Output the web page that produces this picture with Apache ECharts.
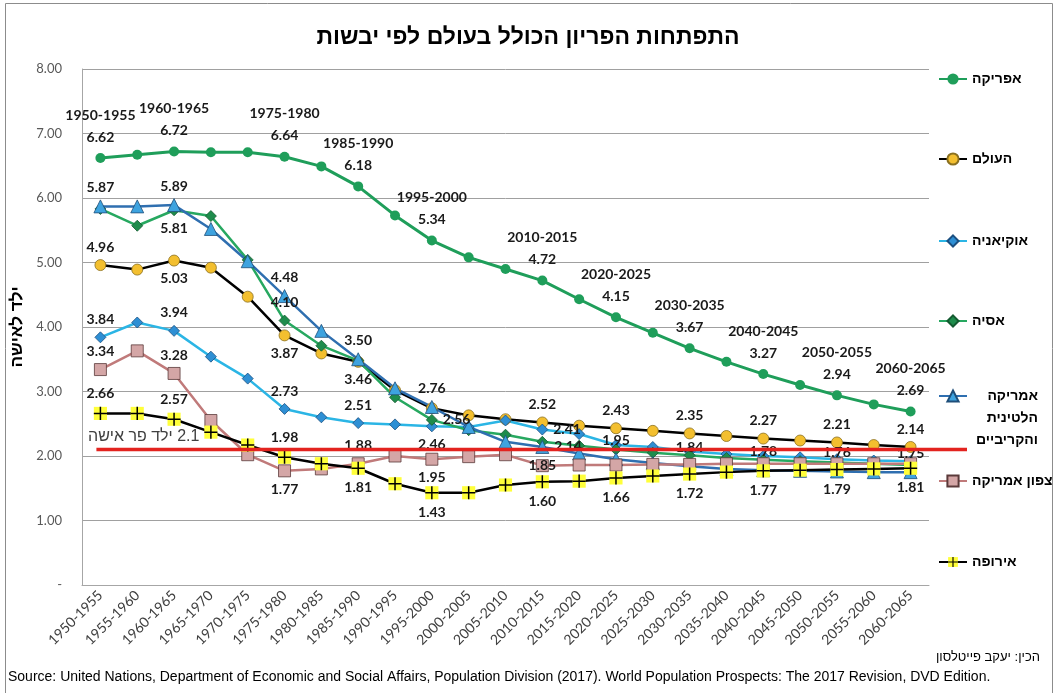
<!DOCTYPE html>
<html>
<head>
<meta charset="utf-8">
<title>התפתחות הפריון הכולל בעולם לפי יבשות</title>
<script src="https://cdn.jsdelivr.net/npm/echarts@6/dist/echarts.min.js"></script>
<style>
html, body { margin: 0; padding: 0; background: #fff; }
#main { width: 1056px; height: 693px; }
</style>
</head>
<body>
<div id="main"></div>
<script>
// תקופות
var periods = ['1950-1955', '1955-1960', '1960-1965', '1965-1970', '1970-1975', '1975-1980',
	'1980-1985', '1985-1990', '1990-1995', '1995-2000', '2000-2005', '2005-2010', '2010-2015',
	'2015-2020', '2020-2025', '2025-2030', '2030-2035', '2035-2040', '2040-2045', '2045-2050',
	'2050-2055', '2055-2060', '2060-2065'];

// ילד לאישה לפי יבשת
var africa  = [6.62, 6.67, 6.72, 6.71, 6.71, 6.64, 6.49, 6.18, 5.73, 5.34, 5.08, 4.90, 4.72, 4.43, 4.15, 3.91, 3.67, 3.46, 3.27, 3.10, 2.94, 2.80, 2.69];
var world   = [4.96, 4.89, 5.03, 4.92, 4.47, 3.87, 3.59, 3.46, 3.02, 2.74, 2.63, 2.57, 2.52, 2.47, 2.43, 2.39, 2.35, 2.31, 2.27, 2.24, 2.21, 2.17, 2.14];
var oceania = [3.84, 4.07, 3.94, 3.54, 3.20, 2.73, 2.60, 2.51, 2.49, 2.46, 2.45, 2.55, 2.41, 2.34, 2.17, 2.14, 2.07, 2.03, 2.00, 1.98, 1.95, 1.93, 1.92];
var asia    = [5.83, 5.57, 5.81, 5.72, 5.04, 4.10, 3.71, 3.48, 2.91, 2.56, 2.40, 2.33, 2.22, 2.16, 2.10, 2.05, 2.01, 1.97, 1.94, 1.92, 1.90, 1.88, 1.86];
var latam   = [5.87, 5.87, 5.89, 5.52, 5.02, 4.48, 3.94, 3.50, 3.05, 2.76, 2.45, 2.22, 2.14, 2.04, 1.95, 1.89, 1.84, 1.80, 1.78, 1.77, 1.76, 1.75, 1.75];
var northAm = [3.34, 3.63, 3.28, 2.55, 2.02, 1.77, 1.80, 1.88, 2.00, 1.95, 1.99, 2.02, 1.85, 1.86, 1.86, 1.87, 1.87, 1.88, 1.88, 1.88, 1.88, 1.88, 1.88];
var europe  = [2.66, 2.66, 2.57, 2.37, 2.17, 1.98, 1.88, 1.81, 1.57, 1.43, 1.43, 1.55, 1.60, 1.61, 1.66, 1.69, 1.72, 1.75, 1.77, 1.78, 1.79, 1.80, 1.81];

var replacementLevel = 2.1;
var yTicks = [0, 1, 2, 3, 4, 5, 6, 7, 8];

// אילו נקודות מקבלות תווית ואיפה
var africaLabels  = {0: 'top', 2: 'top', 5: 'top', 7: 'top', 9: 'top', 12: 'top', 14: 'top', 16: 'top', 18: 'top', 20: 'top', 22: 'top'};
var worldLabels   = {0: 'top', 2: 'bottom', 5: 'bottom', 7: 'bottom', 12: 'top', 14: 'top', 16: 'top', 18: 'top', 20: 'top', 22: 'top'};
var oceaniaLabels = {0: 'top', 2: 'top', 5: 'top', 7: 'top', 9: 'bottom', 12: 'right'};
var asiaLabels    = {2: 'bottom', 5: 'top', 9: 'right'};
var latamLabels   = {0: 'top', 2: 'top', 5: 'top', 7: 'top', 9: 'top', 12: 'right', 14: 'top', 16: 'top', 18: 'top', 20: 'top', 22: 'top'};
var northAmLabels = {0: 'top', 2: 'top', 5: 'bottom', 7: 'top', 9: 'bottom', 12: 'inside'};
var europeLabels  = {0: 'top', 2: 'top', 5: 'top', 7: 'bottom', 9: 'bottom', 12: 'bottom', 14: 'bottom', 16: 'bottom', 18: 'bottom', 20: 'bottom', 22: 'bottom'};

var LATAM = 'אמריקה הלטינית והקריביים';

var europeSvg = "<svg xmlns='http://www.w3.org/2000/svg' width='16' height='16'>" +
	"<rect x='1' y='1' width='14' height='14' fill='#ffff3a'/>" +
	"<path d='M8 1V15M1 8H15' stroke='#000' stroke-width='1.6'/></svg>";
var europeSymbol = 'image://data:image/svg+xml;utf8,' + encodeURIComponent(europeSvg);

var labelFont = {
	color: '#1a1a1a',
	fontWeight: 'bold',
	fontSize: 14,
	fontFamily: 'Lato, "Liberation Sans", sans-serif',
	formatter: function(p) { return p.value.toFixed(2); }
};

function makeSeries(name, values, labels, lineColor, symbol, size, fill, border) {
	return {
		name: name,
		type: 'line',
		symbol: symbol,
		symbolSize: size,
		showAllSymbol: true,
		lineStyle: { color: lineColor, width: 2.5 },
		itemStyle: { color: fill, borderColor: border, borderWidth: border ? 0.8 : 0 },
		label: labelFont,
		emphasis: { disabled: true },
		data: values.map(function(v, i) {
			if (labels[i]) {
				return { value: v, label: { show: true, position: labels[i] } };
			}
			return v;
		})
	};
}

var series = [
	makeSeries('אפריקה', africa, africaLabels, '#1f9e5a', 'circle', 10, '#1f9e5a', null),
	makeSeries('העולם', world, worldLabels, '#000000', 'circle', 11, '#f3bf2f', '#8a7020'),
	makeSeries('אוקיאניה', oceania, oceaniaLabels, '#2bb5e5', 'diamond', 11, '#2e8fd4', '#1b4f80'),
	makeSeries('אסיה', asia, asiaLabels, '#27a860', 'diamond', 11, '#1e8c4c', '#145a30'),
	makeSeries(LATAM, latam, latamLabels, '#2f6fb0', 'triangle', 13, '#3ea3df', '#1f4e79'),
	makeSeries('צפון אמריקה', northAm, northAmLabels, '#c07a7a', 'rect', 12, '#d4a6a6', '#5a3a3a'),
	makeSeries('אירופה', europe, europeLabels, '#000000', europeSymbol, 15, '#ffff3a', null)
];
// אפריקה: תווית עם שם התקופה
series[0].lineStyle.width = 3;
series[0].label = Object.assign({}, labelFont, {
	lineHeight: 22,
	formatter: function(p) { return periods[p.dataIndex] + '\n' + p.value.toFixed(2); }
});

var legendFontFamily = '"Liberation Sans", "DejaVu Sans", sans-serif';
var legendCenters = [70, 150, 232, 312, 391, 472, 553];
var legends = series.map(function(s, i) {
	var isLatam = s.name === LATAM;
	return {
		data: [s.name],
		orient: 'vertical',
		left: 933,
		top: isLatam ? legendCenters[i] - 55 : legendCenters[i] - 7,
		itemWidth: 28,
		itemHeight: 14,
		itemGap: 4,
		selectedMode: false,
		formatter: isLatam ? function(n) {
			return '\n\n' + n.split(' ').map(function(w) { return '{r|' + w + '}'; }).join('\n');
		} : '{name}',
		textStyle: {
			color: '#000',
			fontSize: 14,
			fontWeight: 'bold',
			fontFamily: legendFontFamily,
			lineHeight: 22,
			rich: { r: { width: 66, align: 'right', fontSize: 14, fontWeight: 'bold', lineHeight: 22,
				fontFamily: legendFontFamily } }
		}
	};
});

var chart = echarts.init(document.getElementById('main'));

var option = {
	animation: false,
	backgroundColor: '#fff',
	title: {
		text: 'התפתחות הפריון הכולל בעולם לפי יבשות',
		left: 'center',
		top: 21,
		textStyle: { fontSize: 23, fontWeight: 'bold', color: '#000',
			fontFamily: '"Liberation Sans", sans-serif' }
	},
	legend: legends,
	grid: { left: 82, right: 127, top: 69, bottom: 108, containLabel: false, outerBoundsMode: 'none' },
	xAxis: {
		type: 'category',
		data: periods,
		boundaryGap: true,
		axisLine: { lineStyle: { color: '#a6a6a6' } },
		axisTick: { show: false },
		axisLabel: { interval: 0, rotate: 45, color: '#404040', fontSize: 14, margin: 8,
			fontFamily: 'Lato, "Liberation Sans", sans-serif' }
	},
	yAxis: {
		type: 'value',
		min: yTicks[0],
		max: yTicks[yTicks.length - 1],
		interval: 1,
		name: 'ילד לאישה',
		nameLocation: 'middle',
		nameGap: 52,
		nameTextStyle: { fontSize: 17, fontWeight: 'bold', color: '#000',
			fontFamily: '"Liberation Sans", sans-serif' },
		axisLine: { show: true, lineStyle: { color: '#a6a6a6' } },
		axisTick: { show: false },
		splitLine: { lineStyle: { color: '#a0a0a0' } },
		axisLabel: {
			color: '#595959', fontSize: 13, margin: 20,
			fontFamily: 'Lato, "Liberation Sans", sans-serif',
			formatter: function(v) { return v === 0 ? '-' : v.toFixed(2); }
		}
	},
	graphic: [
		{ id: 'frame', type: 'rect', left: 3, top: 1, shape: { width: 1047, height: 690 },
			style: { fill: 'none', stroke: '#8c8c8c', lineWidth: 1 }, silent: true },
		{ id: 'author', type: 'text', right: 16, top: 651,
			style: { text: 'הכין: יעקב פייטלסון', fill: '#000',
				font: '13px "Liberation Sans", sans-serif' } },
		{ id: 'source', type: 'text', left: 8, top: 670,
			style: { text: 'Source: United Nations, Department of Economic and Social Affairs, Population Division (2017). World Population Prospects: The 2017 Revision, DVD Edition.',
				fill: '#000', font: '14px "Liberation Sans", sans-serif' } }
	],
	series: series
};

chart.setOption(option);

// קו 2.1 ילד לאישה
var yRef = chart.convertToPixel({ yAxisIndex: 0 }, replacementLevel);
var xStart = chart.convertToPixel({ xAxisIndex: 0 }, 0) - 4;
chart.setOption({
	graphic: [
		{ id: 'refLine', type: 'line', z: 10,
			shape: { x1: xStart, y1: yRef, x2: 967, y2: yRef },
			style: { stroke: '#e3231f', lineWidth: 3.5 } },
		{ id: 'refText', type: 'text', z: 10, x: 88, y: yRef - 21,
			style: { text: '\u202B2.1 ילד פר אישה\u202C', fill: '#404040',
				font: '16px "Liberation Sans", sans-serif' } }
	]
});
</script>
</body>
</html>
